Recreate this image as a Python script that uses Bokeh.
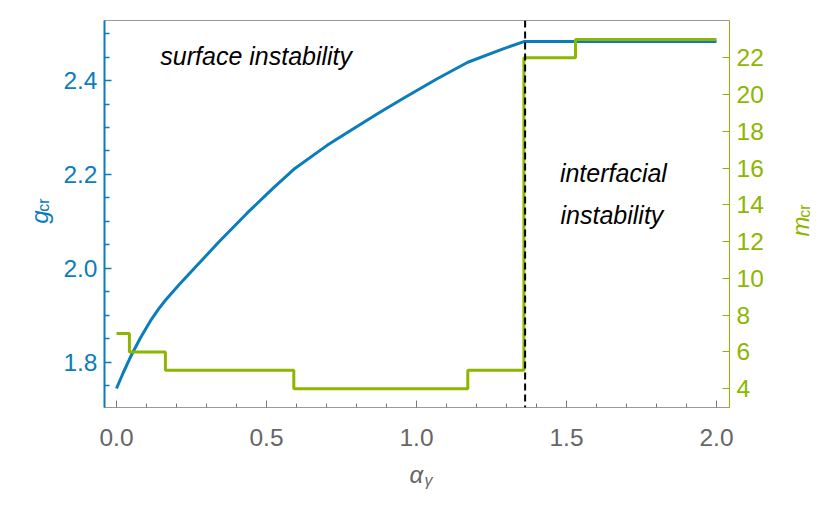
from bokeh.plotting import figure
from bokeh.models import (Range1d, LinearAxis, FixedTicker, PrintfTickFormatter,
                          Span, Label)
from bokeh.layouts import row, column
from bokeh.core.properties import value
from bokeh.embed import file_html
from bokeh.resources import INLINE

# ---------------- data ----------------
alpha = [0.0, 0.022, 0.043, 0.052, 0.080, 0.113, 0.140, 0.163, 0.210, 0.258,
         0.341, 0.436, 0.524, 0.591, 0.702, 0.791, 0.874, 0.958, 1.069, 1.171,
         1.291, 1.358, 2.0]
g_cr = [1.744, 1.777, 1.806, 1.818, 1.852, 1.888, 1.913, 1.932, 1.966, 1.999,
        2.056, 2.118, 2.172, 2.211, 2.262, 2.298, 2.331, 2.363, 2.404, 2.439,
        2.468, 2.483, 2.483]

step_alpha = [0.0, 0.043, 0.163, 0.591, 1.171, 1.358, 1.530, 2.0]
m_cr = [7, 6, 5, 4, 5, 22, 23, 23]

alpha_transition = 1.362

x_ticks = [0.0, 0.5, 1.0, 1.5, 2.0]
x_minor = [0.1, 0.2, 0.3, 0.4, 0.6, 0.7, 0.8, 0.9, 1.1, 1.2, 1.3, 1.4,
           1.6, 1.7, 1.8, 1.9]
g_ticks = [1.8, 2.0, 2.2, 2.4]
g_minor = [1.75, 1.85, 1.9, 1.95, 2.05, 2.1, 2.15, 2.25, 2.3, 2.35, 2.45, 2.5]
m_ticks = [4, 6, 8, 10, 12, 14, 16, 18, 20, 22]

BLUE = "#0B7DBA"
GREEN = "#8DB600"
GRAY_TXT = "#666666"
FONT = "Liberation Sans"
TICK_SIZE = "24.5px"

# layout sizes (pixels)
LEFT_W, RIGHT_W, TOP_H, BOTTOM_H = 58, 54, 455, 56
MAIN_W = 834 - LEFT_W - RIGHT_W
RIGHT_X0 = 834 - RIGHT_W

p = figure(width=MAIN_W, height=TOP_H, output_backend="svg", toolbar_location=None,
           x_range=Range1d(-0.04, 2.0433), y_range=Range1d(1.7035, 2.528),
           min_border_left=104 - LEFT_W, min_border_right=RIGHT_X0 - 729,
           min_border_top=20, min_border_bottom=TOP_H - 407)
p.extra_y_ranges = {"m": Range1d(2.98, 24.03)}
p.xgrid.visible = False
p.ygrid.visible = False
p.outline_line_color = "#9a9a9a"
p.outline_line_width = 1

# bottom axis
xa = p.xaxis[0]
xa.ticker = FixedTicker(ticks=x_ticks, minor_ticks=x_minor)
xa.formatter = PrintfTickFormatter(format="%.1f")
xa.axis_line_color = "#9a9a9a"
xa.major_tick_line_color = "#7a7a7a"
xa.minor_tick_line_color = "#7a7a7a"
xa.major_tick_in = 7
xa.major_tick_out = 0
xa.minor_tick_in = 4
xa.minor_tick_out = 0
xa.major_label_text_color = GRAY_TXT
xa.major_label_text_font = FONT
xa.major_label_text_font_size = TICK_SIZE
xa.major_label_standoff = 21

# left axis
ya = p.yaxis[0]
ya.ticker = FixedTicker(ticks=g_ticks, minor_ticks=g_minor)
ya.formatter = PrintfTickFormatter(format="%.1f")
ya.axis_line_color = BLUE
ya.axis_line_width = 2
ya.major_tick_line_color = BLUE
ya.minor_tick_line_color = BLUE
ya.major_tick_line_width = 1.5
ya.minor_tick_line_width = 1.5
ya.major_tick_in = 7
ya.major_tick_out = 0
ya.minor_tick_in = 5
ya.minor_tick_out = 0
ya.major_label_text_color = BLUE
ya.major_label_text_font = FONT
ya.major_label_text_font_size = TICK_SIZE
ya.major_label_standoff = 7

# right axis
ra = LinearAxis(y_range_name="m", ticker=FixedTicker(ticks=m_ticks))
ra.axis_line_color = GREEN
ra.axis_line_width = 1
ra.major_tick_line_color = GREEN
ra.major_tick_in = 7
ra.major_tick_out = 0
ra.minor_tick_line_color = None
ra.major_label_text_color = GREEN
ra.major_label_text_font = FONT
ra.major_label_text_font_size = TICK_SIZE
ra.major_label_standoff = 7
p.add_layout(ra, "right")

# curves
p.line(alpha, g_cr, line_color=BLUE, line_width=3, line_join="round")
p.step(step_alpha, m_cr, mode="after", y_range_name="m", line_color=GREEN,
       line_width=3)
p.add_layout(Span(location=alpha_transition, dimension="height",
                  line_color="black", line_dash="7 4", line_width=2))

# region annotations
for txt, x, y in [("surface instability", 0.146, 2.4515),
                  ("interfacial", 1.478, 2.204),
                  ("instability", 1.48, 2.114)]:
    p.add_layout(Label(x=x, y=y, text=txt, text_font=FONT,
                       text_font_style="italic", text_font_size="25px",
                       text_color="black", text_baseline="alphabetic"))


def strip(w, h):
    s = figure(width=w, height=h, output_backend="svg", toolbar_location=None,
               x_range=Range1d(0, w), y_range=Range1d(0, h),
               x_axis_type=None, y_axis_type=None, min_border=0,
               min_border_left=0, min_border_right=0, min_border_top=0,
               min_border_bottom=0)
    s.outline_line_color = None
    s.xgrid.visible = False
    s.ygrid.visible = False
    return s


# left strip: g_cr
sl = strip(LEFT_W, TOP_H)
sl.text(x=[39], y=[TOP_H - 239], text=["g"], angle=1.5708,
        text_font=value(FONT), text_font_style="italic", text_font_size="24px",
        text_color=BLUE, text_baseline="alphabetic", text_align="left")
sl.text(x=[43], y=[TOP_H - 225], text=["cr"], angle=1.5708,
        text_font=value(FONT), text_font_size="16px",
        text_color=BLUE, text_baseline="alphabetic", text_align="left")

# right strip: m_cr
sr = strip(RIGHT_W, TOP_H)
sr.text(x=[800 - RIGHT_X0], y=[TOP_H - 254], text=["m"], angle=1.5708,
        text_font=value(FONT), text_font_style="italic", text_font_size="24px",
        text_color=GREEN, text_baseline="alphabetic", text_align="left")
sr.text(x=[804 - RIGHT_X0], y=[TOP_H - 232], text=["cr"], angle=1.5708,
        text_font=value(FONT), text_font_size="16px",
        text_color=GREEN, text_baseline="alphabetic", text_align="left")

# bottom strip: alpha_gamma
sb = strip(834, BOTTOM_H)
sb.text(x=[409], y=[BOTTOM_H - (474 - TOP_H)], text=["α"],
        text_font=value(FONT), text_font_style="italic", text_font_size="24px",
        text_color=GRAY_TXT, text_baseline="alphabetic", text_align="left")
sb.text(x=[424], y=[BOTTOM_H - (480 - TOP_H)], text=["γ"],
        text_font=value(FONT), text_font_style="italic", text_font_size="16px",
        text_color=GRAY_TXT, text_baseline="alphabetic", text_align="left")

layout = column(row(sl, p, sr, spacing=0), sb, spacing=0)

open("out.html", "w").write(file_html(layout, INLINE))
